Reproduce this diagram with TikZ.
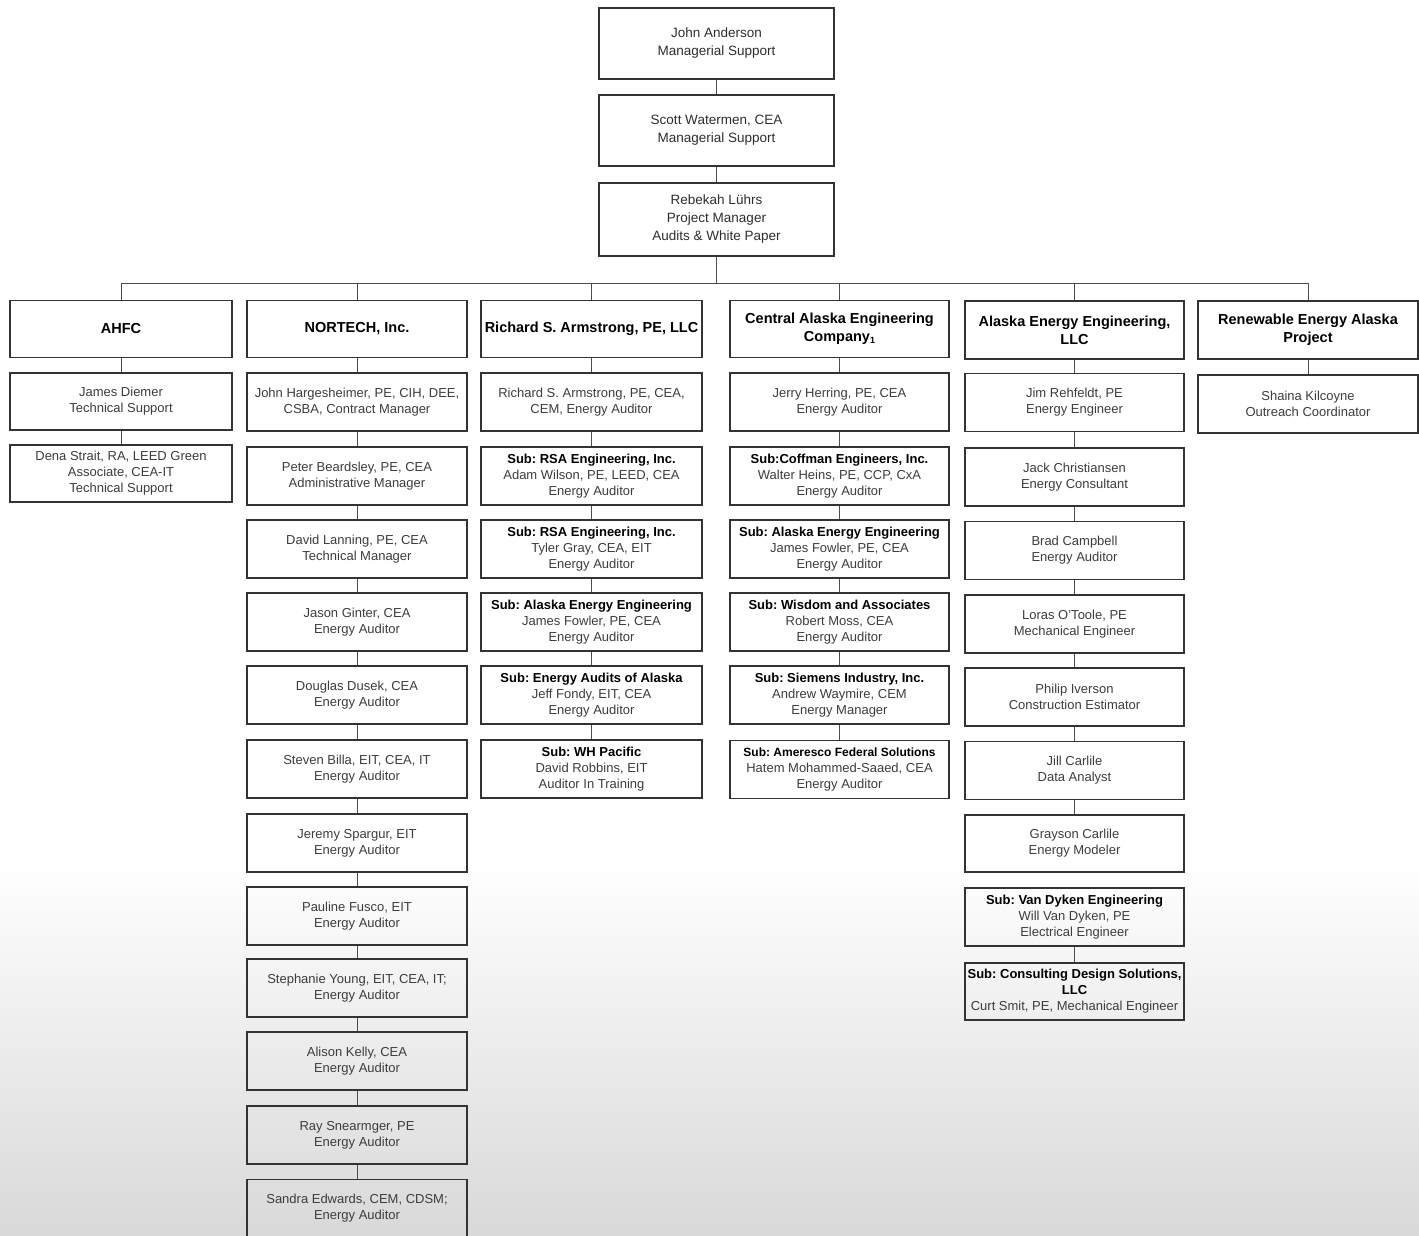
\documentclass[tikz,border=0pt]{standalone}
\usepackage{fontspec}
\setmainfont{Liberation Sans}
\frenchspacing
\newcommand\subl[1]{{\bfseries\color{black}#1}}
\tikzset{
  bx/.style={draw=black!80, line width=1.7pt, rectangle, align=center, inner sep=0pt,
    text=black!76, font=\fontsize{13}{16}\selectfont, minimum height=58pt},
  topbx/.style={bx, line width=2.8pt, text=black!82, font=\fontsize{13.5}{18}\selectfont, minimum width=235pt},
  head/.style={bx, text=black, font=\bfseries\fontsize{14.5}{18}\selectfont, minimum height=57pt},
  wa/.style={minimum width=222pt},
  wb/.style={minimum width=220pt},
  wc/.style={minimum width=221pt},
  wd/.style={minimum width=219pt},
  ln/.style={draw=black!70, line width=1pt},
}
\begin{document}
\begin{tikzpicture}[x=1pt,y=-1pt]
\useasboundingbox (0,0) rectangle (1419,1235);
\fill[white] (0,0) rectangle (1419,1235);
\shade[top color=white, bottom color=black!15] (0,860) rectangle (1419,1235);
\begin{scope}
\clip (0,0) rectangle (1419,1235);
% top chain
\node[topbx, minimum height=71pt] (ja) at (716.5,43.5) {John Anderson\\Managerial Support};
\node[topbx, minimum height=71pt] (sw) at (716.5,130.5) {Scott Watermen, CEA\\Managerial Support};
\node[topbx, minimum height=73pt] (rl) at (716.5,219.5) {Rebekah L\"uhrs\\Project Manager\\Audits \& White Paper};
% headers
\node[head, wa] (h1) at (121,329) {AHFC};
\node[head, wb] (h2) at (357,329) {NORTECH, Inc.};
\node[head, wc] (h3) at (591.5,329) {Richard S. Armstrong, PE, LLC};
\node[head, wd] (h4) at (839.5,329) {Central Alaska Engineering\\Company\raisebox{-1.5pt}{\fontsize{9}{9}\selectfont 1}};
\node[head, wd, minimum height=58pt] (h5) at (1074.5,330) {Alaska Energy Engineering,\\LLC};
\node[head, wb, minimum height=58pt] (h6) at (1308,330) {Renewable Energy Alaska\\Project};
% column 1
\node[bx, wa, minimum height=57pt] (a1) at (121,401.5) {James Diemer\\Technical Support};
\node[bx, wa, minimum height=57pt] (a2) at (121,473.5) {Dena Strait, RA, LEED Green\\Associate, CEA-IT\\Technical Support};
% column 2
\node[bx, wb] (b1) at (357,402) {John Hargesheimer, PE, CIH, DEE,\\CSBA, Contract Manager};
\node[bx, wb] (b2) at (357,476) {Peter Beardsley, PE, CEA\\Administrative Manager};
\node[bx, wb] (b3) at (357,549) {David Lanning, PE, CEA\\Technical Manager};
\node[bx, wb] (b4) at (357,622) {Jason Ginter, CEA\\Energy Auditor};
\node[bx, wb] (b5) at (357,695) {Douglas Dusek, CEA\\Energy Auditor};
\node[bx, wb] (b6) at (357,769) {Steven Billa, EIT, CEA, IT\\Energy Auditor};
\node[bx, wb] (b7) at (357,843) {Jeremy Spargur, EIT\\Energy Auditor};
\node[bx, wb] (b8) at (357,916) {Pauline Fusco, EIT\\Energy Auditor};
\node[bx, wb] (b9) at (357,988) {Stephanie Young, EIT, CEA, IT;\\Energy Auditor};
\node[bx, wb] (b10) at (357,1061) {Alison Kelly, CEA\\Energy Auditor};
\node[bx, wb] (b11) at (357,1135) {Ray Snearmger, PE\\Energy Auditor};
\node[bx, wb] (b12) at (357,1208.5) {Sandra Edwards, CEM, CDSM;\\Energy Auditor};
% column 3
\node[bx, wc] (c1) at (591.5,402) {Richard S. Armstrong, PE, CEA,\\CEM, Energy Auditor};
\node[bx, wc] (c2) at (591.5,476) {\subl{Sub: RSA Engineering, Inc.}\\Adam Wilson, PE, LEED, CEA\\Energy Auditor};
\node[bx, wc] (c3) at (591.5,549) {\subl{Sub: RSA Engineering, Inc.}\\Tyler Gray, CEA, EIT\\Energy Auditor};
\node[bx, wc] (c4) at (591.5,622) {\subl{Sub: Alaska Energy Engineering}\\James Fowler, PE, CEA\\Energy Auditor};
\node[bx, wc] (c5) at (591.5,695) {\subl{Sub: Energy Audits of Alaska}\\Jeff Fondy, EIT, CEA\\Energy Auditor};
\node[bx, wc] (c6) at (591.5,769) {\subl{Sub: WH Pacific}\\David Robbins, EIT\\Auditor In Training};
% column 4
\node[bx, wd] (d1) at (839.5,402) {Jerry Herring, PE, CEA\\Energy Auditor};
\node[bx, wd] (d2) at (839.5,476) {\subl{Sub:Coffman Engineers, Inc.}\\Walter Heins, PE, CCP, CxA\\Energy Auditor};
\node[bx, wd] (d3) at (839.5,549) {\subl{Sub: Alaska Energy Engineering}\\James Fowler, PE, CEA\\Energy Auditor};
\node[bx, wd] (d4) at (839.5,622) {\subl{Sub: Wisdom and Associates}\\Robert Moss, CEA\\Energy Auditor};
\node[bx, wd] (d5) at (839.5,695) {\subl{Sub: Siemens Industry, Inc.}\\Andrew Waymire, CEM\\Energy Manager};
\node[bx, wd] (d6) at (839.5,769.5) {\subl{\fontsize{12}{16}\selectfont Sub: Ameresco Federal Solutions}\\Hatem Mohammed-Saaed, CEA\\Energy Auditor};
% column 5
\node[bx, wd] (e1) at (1074.5,402.5) {Jim Rehfeldt, PE\\Energy Engineer};
\node[bx, wd] (e2) at (1074.5,477) {Jack Christiansen\\Energy Consultant};
\node[bx, wd] (e3) at (1074.5,550.5) {Brad Campbell\\Energy Auditor};
\node[bx, wd] (e4) at (1074.5,624) {Loras O'Toole, PE\\Mechanical Engineer};
\node[bx, wd] (e5) at (1074.5,697) {Philip Iverson\\Construction Estimator};
\node[bx, wd] (e6) at (1074.5,770.5) {Jill Carlile\\Data Analyst};
\node[bx, wd, minimum height=57pt] (e7) at (1074.5,843.5) {Grayson Carlile\\Energy Modeler};
\node[bx, wd] (e8) at (1074.5,917) {\subl{Sub: Van Dyken Engineering}\\Will Van Dyken, PE\\Electrical Engineer};
\node[bx, wd, minimum height=57pt] (e9) at (1074.5,991.5) {\subl{Sub: Consulting Design Solutions,}\\\subl{LLC}\\Curt Smit, PE, Mechanical Engineer};
% column 6
\node[bx, wb] (f1) at (1308,404) {Shaina Kilcoyne\\Outreach Coordinator};
% connectors
\coordinate (bus) at (0,283);
\draw[ln] (ja.south) -- (sw.north);
\draw[ln] (sw.south) -- (rl.north);
\draw[ln] (rl.south) -- (rl.south |- bus);
\draw[ln] (h1.north |- bus) -- (h6.north |- bus);
\foreach \h in {h1,h2,h3,h4,h5,h6}
  \draw[ln] (\h.north |- bus) -- (\h.north);
\foreach \u/\v in {h1/a1,a1/a2,
  h2/b1,b1/b2,b2/b3,b3/b4,b4/b5,b5/b6,b6/b7,b7/b8,b8/b9,b9/b10,b10/b11,b11/b12,
  h3/c1,c1/c2,c2/c3,c3/c4,c4/c5,c5/c6,
  h4/d1,d1/d2,d2/d3,d3/d4,d4/d5,d5/d6,
  h5/e1,e1/e2,e2/e3,e3/e4,e4/e5,e5/e6,e6/e7,e8/e9,
  h6/f1}
  \draw[ln] (\u.south) -- (\v.north);
\end{scope}
\end{tikzpicture}
\end{document}
